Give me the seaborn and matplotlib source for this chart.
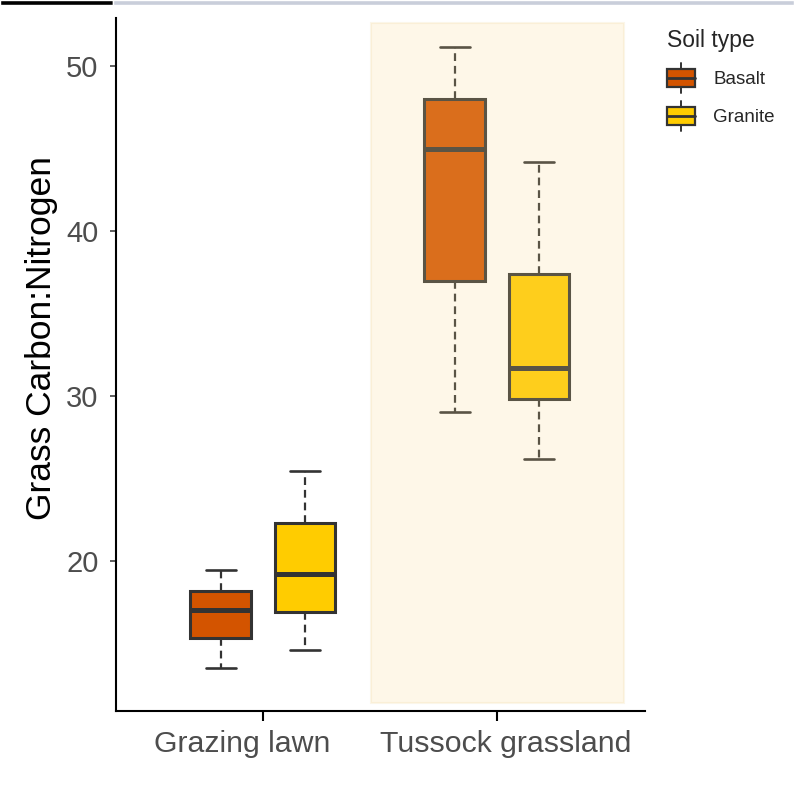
import pandas as pd
import matplotlib.pyplot as plt
import matplotlib.transforms as mtransforms
import seaborn as sns
from matplotlib.patches import Rectangle
from matplotlib.lines import Line2D
from matplotlib.legend_handler import HandlerBase

# =====================================================================
# Dados (resumo de 5 números: min, Q1, mediana, Q3, max)
# =====================================================================
habitats = ["Grazing lawn", "Tussock grassland"]
solos = ["Basalt", "Granite"]

lawn_basalt = [13.5, 15.3, 17.0, 18.2, 19.45]
lawn_granite = [14.6, 16.9, 19.2, 22.3, 25.45]
tussock_basalt = [29.0, 37.0, 45.0, 48.0, 51.15]
tussock_granite = [26.2, 29.8, 31.7, 37.4, 44.2]

cores = {"Basalt": "#D35400", "Granite": "#FFCC00"}
linha = "#333333"


class BoxHandler(HandlerBase):
    """Desenha um mini boxplot como símbolo da legenda (altura fixa em pt)."""
    altura = 21.6

    def create_artists(self, legend, orig, xd, yd, w, h, fontsize, trans):
        x0, y0 = -xd, -yd
        cx = x0 + w / 2
        cy = y0 + h / 2
        a = self.altura
        fc = orig.get_facecolor()
        caixa = Rectangle((x0, cy - 0.29 * a), w, 0.58 * a, facecolor=fc,
                          edgecolor=linha, lw=1.6, transform=trans)
        mediana = Line2D([x0, x0 + w], [cy, cy], color=linha, lw=2.0,
                         transform=trans)
        bigode_sup = Line2D([cx, cx], [cy + 0.29 * a, cy + 0.5 * a],
                            color=linha, lw=1.4, transform=trans)
        bigode_inf = Line2D([cx, cx], [cy - 0.5 * a, cy - 0.29 * a],
                            color=linha, lw=1.4, transform=trans)
        return [bigode_sup, bigode_inf, caixa, mediana]


def montar_tabela():
    grupos = [
        ("Grazing lawn", "Basalt", lawn_basalt),
        ("Grazing lawn", "Granite", lawn_granite),
        ("Tussock grassland", "Basalt", tussock_basalt),
        ("Tussock grassland", "Granite", tussock_granite),
    ]
    linhas = []
    for hab, solo, vals in grupos:
        for v in vals:
            linhas.append({"habitat": hab, "soil": solo, "cn": v})
    return pd.DataFrame(linhas)


df = montar_tabela()

sns.set_theme(style="ticks")
plt.rcParams["font.family"] = ["Liberation Sans", "DejaVu Sans"]

fig = plt.figure(figsize=(7.94, 7.96), dpi=100)
ax = fig.add_axes([0.146, 0.1068, 0.666, 0.8702])

sns.boxplot(data=df, x="habitat", y="cn", hue="soil", order=habitats,
            hue_order=solos, palette=cores, saturation=1, width=0.72, gap=0.28,
            linecolor=linha, linewidth=2.2, whis=(0, 100), ax=ax, legend=False,
            medianprops=dict(color=linha, linewidth=3.6),
            whiskerprops=dict(color=linha, linewidth=1.6, linestyle=(0, (3.5, 2.2))),
            capprops=dict(color=linha, linewidth=1.9),
            boxprops=dict(edgecolor=linha, linewidth=2.2))

# faixa destacada sobre o Tussock grassland
ax.add_patch(Rectangle((0.4615, 11.4), 1.543 - 0.4615, 52.6 - 11.4,
                       facecolor=(0.98, 0.85, 0.56, 0.2),
                       edgecolor=(0.93, 0.84, 0.62, 0.22), lw=1.5, zorder=6))

ax.set_xlim(-0.628, 1.632)
ax.set_ylim(10.9, 52.9)
ax.set_yticks([20, 30, 40, 50])
ax.set_xlabel("")
ax.set_ylabel("Grass Carbon:Nitrogen", fontsize=25.5, color="black", labelpad=6)
ax.yaxis.label.set_y(0.538)

for s in ["top", "right"]:
    ax.spines[s].set_visible(False)
for s in ["left", "bottom"]:
    ax.spines[s].set_linewidth(1.5)
    ax.spines[s].set_color("black")

ax.tick_params(axis="y", labelsize=21, labelcolor="#4D4D4D", length=4.5,
               width=1.1, color="#333333", pad=8)
ax.tick_params(axis="x", labelsize=21.8, labelcolor="#4D4D4D", length=7.5,
               width=1.5, color="black", pad=6)

# deslocamento horizontal dos rótulos do eixo x, como no original
deslocamentos = [-21, 9]
for lbl, dx in zip(ax.get_xticklabels(), deslocamentos):
    lbl.set_transform(lbl.get_transform() +
                      mtransforms.ScaledTranslation(dx / 100, 0, fig.dpi_scale_trans))

# legenda com símbolo de boxplot
handles = [Rectangle((0, 0), 1, 1, facecolor=cores[s]) for s in solos]
leg = fig.legend(handles, solos, title="Soil type", loc="upper left",
                 bbox_to_anchor=(0.819, 0.985), frameon=False,
                 handler_map={Rectangle: BoxHandler()}, fontsize=13.5,
                 title_fontsize=16.5, handlelength=1.5, handleheight=1.6,
                 labelspacing=0.75, handletextpad=0.95, alignment="left")

# faixa superior da captura de tela original
fig.patches.append(Rectangle((0, 0.994), 113 / 794, 0.006, facecolor="black",
                             transform=fig.transFigure, figure=fig))
fig.patches.append(Rectangle((113 / 794, 0.994), 1 - 113 / 794, 0.006,
                             facecolor="#C9CEDA", transform=fig.transFigure,
                             figure=fig))

plt.savefig("out.png", dpi=100)
plt.close()
